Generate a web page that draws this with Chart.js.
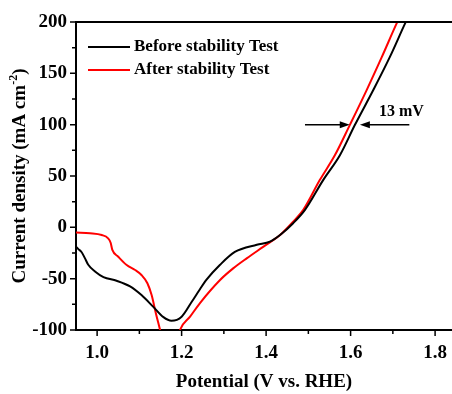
<!DOCTYPE html>
<html>
<head>
<meta charset="utf-8">
<script src="https://cdn.jsdelivr.net/npm/chart.js@4.4.0/dist/chart.umd.min.js"></script>
<style>
  html, body { margin: 0; padding: 0; background: #fff; }
  canvas { display: block; }
</style>
</head>
<body>
<canvas id="lsv" width="452" height="394"></canvas>
<script>
// valores
const potBefore = [0.95, 0.955, 0.963, 0.971, 0.979, 0.995, 1.015, 1.046, 1.078, 1.105, 1.133, 1.157, 1.176, 1.2, 1.224, 1.243, 1.259, 1.291, 1.326, 1.378, 1.409, 1.433, 1.464, 1.492, 1.535, 1.575, 1.61, 1.654, 1.693, 1.729, 1.74];
const curBefore = [-19, -21, -24, -30, -36.5, -43, -48.5, -52, -57.5, -66, -77.5, -87.5, -91, -87, -72.5, -60.5, -51, -36.5, -24, -17, -14, -7.5, 4, 17, 46, 70.5, 99.6, 134, 166, 198.6, 208];
const potAfter = [0.95, 0.983, 1.011, 1.026, 1.032, 1.036, 1.05, 1.07, 1.09, 1.105, 1.119, 1.129, 1.139, 1.149, 1.165, 1.18, 1.196, 1.22, 1.243, 1.291, 1.322, 1.354, 1.393, 1.433, 1.464, 1.488, 1.527, 1.563, 1.598, 1.638, 1.674, 1.709, 1.72];
const curAfter = [-5, -5.8, -7.5, -10.7, -15, -22, -28.6, -36.7, -41.6, -46.4, -54.5, -66, -83.7, -100, -128, -125, -100, -87, -74, -51.3, -40, -30.2, -19, -7.5, 5.5, 17, 46, 70.4, 99.6, 133.7, 166, 198.6, 208];
const seriesNames = ['Before stability Test', 'After stability Test'];
const seriesColors = ['#000000', '#ff0000'];
const xTicks = [1.0, 1.2, 1.4, 1.6, 1.8];
const xMinor = [1.1, 1.3, 1.5, 1.7];
const yTicks = [-100, -50, 0, 50, 100, 150, 200];
const yMinor = [-75, -25, 25, 75, 125, 175];
// flechas de la diferencia de potencial a 100 mA cm-2
const shiftLevel = 100;
const shiftLeftArrow = [1.492, 1.598];
const shiftRightArrow = [1.739, 1.622];
const shiftLabel = '13 mV';

const FONT = '"Liberation Serif", "Times New Roman", serif';

function toPoints(xs, ys) {
  return xs.map((x, i) => ({ x: x, y: ys[i] }));
}

function arrow(ctx, x0, x1, y) {
  const dir = x1 > x0 ? 1 : -1;
  ctx.beginPath();
  ctx.moveTo(x0, y);
  ctx.lineTo(x1 - dir * 8, y);
  ctx.stroke();
  ctx.beginPath();
  ctx.moveTo(x1, y);
  ctx.lineTo(x1 - dir * 10, y - 3.5);
  ctx.lineTo(x1 - dir * 10, y + 3.5);
  ctx.closePath();
  ctx.fill();
}

const extras = {
  id: 'extras',
  afterDraw(chart) {
    const ctx = chart.ctx;
    const a = chart.chartArea;
    const xs = chart.scales.x;
    const ys = chart.scales.y;
    ctx.save();
    ctx.strokeStyle = '#000';
    ctx.fillStyle = '#000';

    // marco superior
    ctx.lineWidth = 2;
    ctx.beginPath();
    ctx.moveTo(a.left - 1, a.top);
    ctx.lineTo(chart.width, a.top);
    ctx.stroke();

    // ticks mayores y menores
    ctx.lineWidth = 1.5;
    ctx.beginPath();
    yTicks.forEach(v => { const p = ys.getPixelForValue(v); ctx.moveTo(a.left, p); ctx.lineTo(a.left - 6, p); });
    yMinor.forEach(v => { const p = ys.getPixelForValue(v); ctx.moveTo(a.left, p); ctx.lineTo(a.left - 4, p); });
    xTicks.forEach(v => { const p = xs.getPixelForValue(v); ctx.moveTo(p, a.bottom); ctx.lineTo(p, a.bottom + 6); });
    xMinor.forEach(v => { const p = xs.getPixelForValue(v); ctx.moveTo(p, a.bottom); ctx.lineTo(p, a.bottom + 4); });
    ctx.stroke();

    // leyenda
    ctx.font = 'bold 17px ' + FONT;
    ctx.textBaseline = 'middle';
    ctx.textAlign = 'left';
    seriesNames.forEach((name, i) => {
      const y = 47 + i * 23;
      ctx.strokeStyle = seriesColors[i];
      ctx.lineWidth = 2;
      ctx.beginPath();
      ctx.moveTo(88, y);
      ctx.lineTo(130, y);
      ctx.stroke();
      ctx.fillStyle = '#000';
      ctx.fillText(name, 134, y);
    });

    // flechas y etiqueta 13 mV
    const py = ys.getPixelForValue(shiftLevel);
    ctx.strokeStyle = '#000';
    ctx.fillStyle = '#000';
    ctx.lineWidth = 1.5;
    arrow(ctx, xs.getPixelForValue(shiftLeftArrow[0]), xs.getPixelForValue(shiftLeftArrow[1]), py);
    arrow(ctx, xs.getPixelForValue(shiftRightArrow[0]), xs.getPixelForValue(shiftRightArrow[1]), py);
    ctx.font = 'bold 16px ' + FONT;
    ctx.textBaseline = 'alphabetic';
    ctx.fillText(shiftLabel, 379, 116);

    // titulo eje x
    ctx.font = 'bold 19px ' + FONT;
    ctx.textAlign = 'center';
    ctx.textBaseline = 'middle';
    ctx.fillText('Potential (V vs. RHE)', 264, 382);

    // titulo eje y con superindice
    const main = 'Current density (mA cm';
    const sup = '-2';
    const close = ')';
    ctx.translate(18, 176);
    ctx.rotate(-Math.PI / 2);
    ctx.font = 'bold 19px ' + FONT;
    const w1 = ctx.measureText(main).width;
    const w3 = ctx.measureText(close).width;
    ctx.font = 'bold 12px ' + FONT;
    const w2 = ctx.measureText(sup).width;
    let x0 = -(w1 + w2 + w3) / 2;
    ctx.textAlign = 'left';
    ctx.textBaseline = 'alphabetic';
    ctx.font = 'bold 19px ' + FONT;
    ctx.fillText(main, x0, 7);
    ctx.font = 'bold 12px ' + FONT;
    ctx.fillText(sup, x0 + w1, -1);
    ctx.font = 'bold 19px ' + FONT;
    ctx.fillText(close, x0 + w1 + w2, 7);
    ctx.restore();
  }
};

new Chart(document.getElementById('lsv'), {
  type: 'scatter',
  data: {
    datasets: [
      {
        label: seriesNames[0],
        data: toPoints(potBefore, curBefore),
        borderColor: seriesColors[0],
        showLine: true,
        borderWidth: 2,
        pointRadius: 0,
        cubicInterpolationMode: 'monotone',
        clip: 0
      },
      {
        label: seriesNames[1],
        data: toPoints(potAfter, curAfter),
        borderColor: seriesColors[1],
        showLine: true,
        borderWidth: 2,
        pointRadius: 0,
        cubicInterpolationMode: 'monotone',
        clip: 0
      }
    ]
  },
  options: {
    responsive: false,
    animation: false,
    layout: { padding: { top: 22, right: 0, left: 0, bottom: 0 } },
    plugins: {
      legend: { display: false },
      tooltip: { enabled: false }
    },
    scales: {
      x: {
        type: 'linear',
        min: 0.95,
        max: 1.84,
        grid: { display: false, drawTicks: false },
        border: { color: '#000', width: 2 },
        ticks: {
          color: '#000',
          padding: 12,
          font: { family: FONT, size: 19, weight: 'bold' },
          callback: v => v.toFixed(1)
        },
        afterBuildTicks: s => { s.ticks = xTicks.map(v => ({ value: v })); },
        afterFit: s => { s.height = 64; s.paddingLeft = 0; s.paddingRight = 0; }
      },
      y: {
        min: -100,
        max: 200,
        grid: { display: false, drawTicks: false },
        border: { color: '#000', width: 2 },
        ticks: {
          color: '#000',
          padding: 9,
          font: { family: FONT, size: 19, weight: 'bold' }
        },
        afterBuildTicks: s => { s.ticks = yTicks.map(v => ({ value: v })); },
        afterFit: s => { s.width = 76; s.paddingTop = 0; s.paddingBottom = 0; }
      }
    }
  },
  plugins: [extras]
});
</script>
</body>
</html>
